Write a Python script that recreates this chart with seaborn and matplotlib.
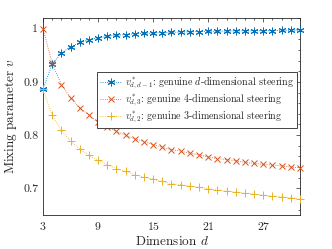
import matplotlib
matplotlib.use("Agg")
import matplotlib.pyplot as plt
import seaborn as sns
import pandas as pd
from matplotlib.ticker import MultipleLocator, FixedLocator

dims = list(range(3, 32))
v_dd1 = [0.886, 0.934, 0.954, 0.966, 0.974, 0.979, 0.983, 0.9855, 0.9875, 0.989,
         0.990, 0.991, 0.9918, 0.9925, 0.993, 0.9935, 0.994, 0.9943, 0.9947, 0.995,
         0.9953, 0.9955, 0.9958, 0.996, 0.9962, 0.9964, 0.9966, 0.9967, 0.9969]
v_d3 = [1.0, 0.935, 0.895, 0.870, 0.851, 0.838, 0.824, 0.815, 0.807, 0.800,
        0.793, 0.788, 0.782, 0.777, 0.773, 0.770, 0.766, 0.763, 0.759, 0.756,
        0.754, 0.752, 0.749, 0.747, 0.745, 0.744, 0.742, 0.740, 0.739]
v_d2 = [0.886, 0.837, 0.809, 0.789, 0.774, 0.762, 0.7525, 0.7445, 0.737, 0.732,
        0.726, 0.721, 0.7175, 0.713, 0.709, 0.707, 0.704, 0.702, 0.6995, 0.697,
        0.695, 0.693, 0.691, 0.689, 0.6875, 0.686, 0.684, 0.6825, 0.680]
labels = [r"$v^*_{d,d-1}$: genuine $d$-dimensional steering",
          r"$v^*_{d,3}$: genuine 4-dimensional steering",
          r"$v^*_{d,2}$: genuine 3-dimensional steering"]
x_ticks = [3, 9, 15, 21, 27]
y_ticks = [0.7, 0.8, 0.9, 1.0]
y_tick_labels = ["0.7", "0.8", "0.9", "1"]

sns.set_style("white")
plt.rcParams["font.family"] = "serif"
plt.rcParams["font.serif"] = ["cmr10", "DejaVu Serif"]
plt.rcParams["mathtext.fontset"] = "cm"
plt.rcParams["axes.formatter.use_mathtext"] = True

fig = plt.figure(figsize=(3.32, 2.49), dpi=100)
ax = fig.add_axes([0.1295, 0.1365, 0.7741, 0.7912])

colors = ["#0072BD", "#D95319", "#EDB120"]
markers = [(6, 2, 0), "x", "+"]
sizes = [5.5, 4.2, 6]
series = [v_dd1, v_d3, v_d2]
for vals, lab, c, m, ms in zip(series, labels, colors, markers, sizes):
    df = pd.DataFrame({"d": dims, "v": vals})
    sns.lineplot(data=df, x="d", y="v", ax=ax, color=c, marker=m, markersize=ms,
                 markeredgewidth=0.7, markeredgecolor=c, linestyle=":", linewidth=0.6,
                 label=lab, clip_on=False, zorder=3)

ax.set_xlim(3, 31)
ax.set_ylim(0.65, 1.02)
ax.xaxis.set_major_locator(FixedLocator(x_ticks))
ax.xaxis.set_minor_locator(MultipleLocator(1))
ax.yaxis.set_major_locator(FixedLocator(y_ticks))
ax.set_yticklabels(y_tick_labels)
ax.yaxis.set_minor_locator(MultipleLocator(0.02))
ax.tick_params(which="both", direction="in", top=True, right=True, colors="#262626",
               labelcolor="#262626", labelsize=8.5, width=0.5)
ax.tick_params(which="major", length=3)
ax.tick_params(which="minor", length=1.5)
for s in ax.spines.values():
    s.set_linewidth(0.6)
    s.set_color("#262626")

ax.set_xlabel(r"Dimension $d$", fontsize=9.5, labelpad=2, color="#262626")
ax.set_ylabel(r"Mixing parameter $v$", fontsize=9.5, labelpad=3, color="#262626")

leg = ax.legend(loc="upper left", bbox_to_anchor=(0.21, 0.725), fontsize=7.2,
                frameon=True, fancybox=False, framealpha=1, edgecolor="#262626",
                borderaxespad=0, handlelength=2.2, handletextpad=0.3,
                labelspacing=0.1, borderpad=0.3)
leg.get_frame().set_linewidth(0.6)

fig.savefig("out.png", dpi=100)
